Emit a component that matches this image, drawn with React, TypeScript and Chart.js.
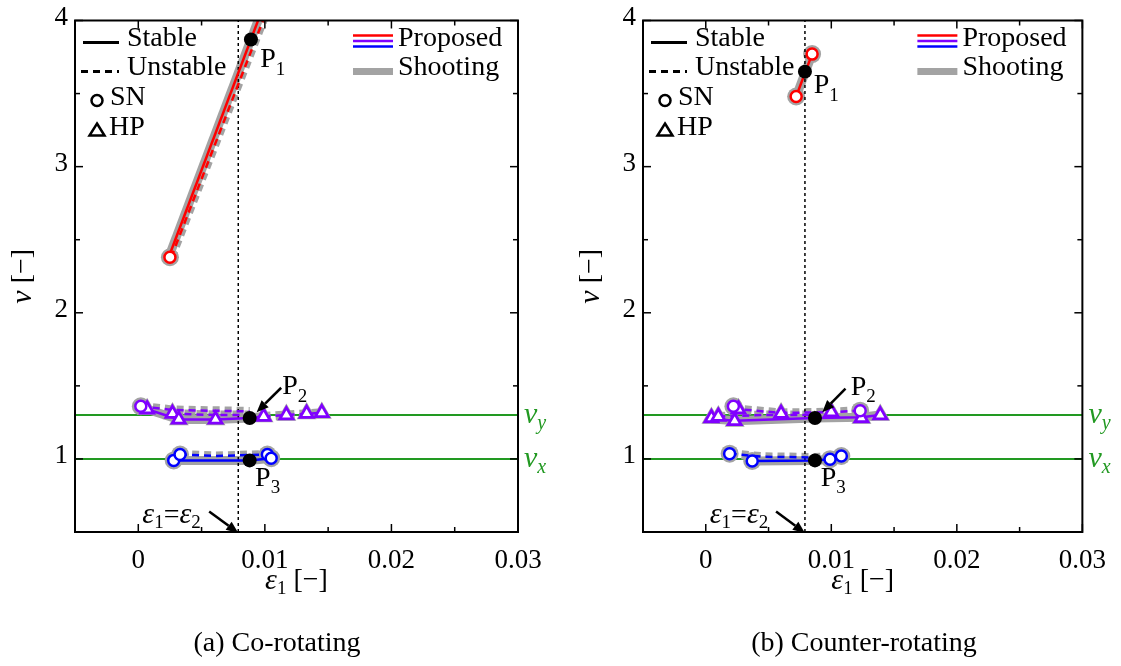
import React, { useEffect, useRef } from "react";
import { Chart, registerables } from "chart.js";
Chart.register(...registerables);

type Pt = [number, number];

const FONT = "'Liberation Serif', 'Times New Roman', Times, serif";
const RED = "#ff0000";
const PURPLE = "#8000ff";
const BLUE = "#0000ff";
const GREEN = "#229922";
const GREY = "#a3a3a3";

// Axes
const X_MIN = -0.005;
const X_MAX = 0.03;
const X_STEP = 0.005;
const Y_MIN = 0.5;
const Y_MAX = 4;
const Y_STEP = 0.5;
const X_TICK_LABELS = [0, 0.01, 0.02, 0.03];
const Y_TICK_LABELS = [1, 2, 3, 4];

// Reference lines
const NU_X = 1.0;
const NU_Y = 1.3;
const EPS_EQUAL = 0.0079;

// ---- (a) Co-rotating ----
const CO_RED_SOLID: Pt[] = [[0.0024, 2.38], [0.0099, 4.1]];
const CO_RED_DASH: Pt[] = [[0.0026, 2.38], [0.0103, 4.1]];
const CO_RED_SN: Pt[] = [[0.0025, 2.38]];
const CO_PURPLE_SOLID: Pt[] = [[0.0007, 1.34], [0.0032, 1.27], [0.0061, 1.27], [0.0088, 1.28], [0.0099, 1.29]];
const CO_PURPLE_DASH_A: Pt[] = [[0.0002, 1.36], [0.0027, 1.335], [0.0088, 1.325]];
const CO_PURPLE_DASH_B: Pt[] = [[0.0027, 1.31], [0.0061, 1.3], [0.0088, 1.3]];
const CO_PURPLE_DASH_C: Pt[] = [[0.0099, 1.29], [0.0117, 1.3], [0.0133, 1.31], [0.0145, 1.315]];
const CO_PURPLE_SN: Pt[] = [[0.0002, 1.36]];
const CO_PURPLE_HP: Pt[] = [[0.0007, 1.34], [0.0027, 1.31], [0.0032, 1.27], [0.0061, 1.27], [0.0099, 1.29], [0.0117, 1.3], [0.0133, 1.31], [0.0145, 1.315]];
const CO_BLUE_SOLID: Pt[] = [[0.0028, 0.99], [0.0088, 0.99], [0.0105, 1.005]];
const CO_BLUE_DASH: Pt[] = [[0.0033, 1.03], [0.006, 1.02], [0.0102, 1.03]];
const CO_BLUE_SN: Pt[] = [[0.0028, 0.99], [0.0033, 1.03], [0.0102, 1.03], [0.0105, 1.005]];
const CO_P_DOTS: Pt[] = [[0.0089, 3.87], [0.0088, 1.28], [0.0088, 0.99]];
const CO_P_LABELS: Pt[] = [[0.00963, 3.73], [0.01137, 1.495], [0.00923, 0.866]];
const CO_P2_ARROW: Pt[] = [[0.01129, 1.487], [0.00935, 1.32]];

// ---- (b) Counter-rotating ----
const CT_RED_SOLID: Pt[] = [[0.0072, 3.48], [0.00847, 3.77]];
const CT_RED_SN: Pt[] = [[0.0072, 3.48], [0.00847, 3.77]];
const CT_PURPLE_SOLID: Pt[] = [[0.00045, 1.275], [0.0023, 1.262], [0.0087, 1.28], [0.0124, 1.285], [0.0139, 1.3]];
const CT_PURPLE_DASH_A: Pt[] = [[0.0022, 1.36], [0.0026, 1.34], [0.006, 1.315], [0.01, 1.32], [0.0123, 1.33]];
const CT_PURPLE_DASH_B: Pt[] = [[0.001, 1.29], [0.0045, 1.3], [0.0087, 1.3]];
const CT_PURPLE_SN: Pt[] = [[0.0022, 1.36], [0.0123, 1.33]];
const CT_PURPLE_HP: Pt[] = [[0.00045, 1.28], [0.001, 1.29], [0.0026, 1.34], [0.0023, 1.26], [0.006, 1.31], [0.01, 1.32], [0.0124, 1.28], [0.0139, 1.3]];
const CT_BLUE_SOLID: Pt[] = [[0.0037, 0.986], [0.0087, 0.99], [0.0099, 0.998]];
const CT_BLUE_DASH: Pt[] = [[0.0019, 1.036], [0.0045, 1.015], [0.0087, 1.01], [0.0108, 1.02]];
const CT_BLUE_SN: Pt[] = [[0.0019, 1.036], [0.0037, 0.986], [0.0099, 0.998], [0.0108, 1.02]];
const CT_P_DOTS: Pt[] = [[0.0079, 3.65], [0.0087, 1.28], [0.0087, 0.99]];
const CT_P_LABELS: Pt[] = [[0.0086, 3.554], [0.01154, 1.489], [0.00916, 0.866]];
const CT_P2_ARROW: Pt[] = [[0.01113, 1.481], [0.00928, 1.32]];

// ε1=ε2 annotation (shared)
const EPS_LABEL: Pt = [0.00032, 0.615];
const EPS_ARROW: Pt[] = [[0.0056, 0.641], [0.0079, 0.5]];

const CAPTIONS = ["(a) Co-rotating", "(b) Counter-rotating"];

interface Line { pts: Pt[]; color: string; dashed: boolean }
interface Marks { pts: Pt[]; color: string }
interface Panel {
  key: string;
  lines: Line[];
  sn: Marks[];
  hp: Marks[];
  pDots: Pt[];
  pLabels: Pt[];
  p2Arrow: Pt[];
}

const PANELS: Panel[] = [
  {
    key: "co",
    lines: [
      { pts: CO_RED_SOLID, color: RED, dashed: false },
      { pts: CO_RED_DASH, color: RED, dashed: true },
      { pts: CO_PURPLE_SOLID, color: PURPLE, dashed: false },
      { pts: CO_PURPLE_DASH_A, color: PURPLE, dashed: true },
      { pts: CO_PURPLE_DASH_B, color: PURPLE, dashed: true },
      { pts: CO_PURPLE_DASH_C, color: PURPLE, dashed: true },
      { pts: CO_BLUE_SOLID, color: BLUE, dashed: false },
      { pts: CO_BLUE_DASH, color: BLUE, dashed: true },
    ],
    sn: [
      { pts: CO_RED_SN, color: RED },
      { pts: CO_PURPLE_SN, color: PURPLE },
      { pts: CO_BLUE_SN, color: BLUE },
    ],
    hp: [{ pts: CO_PURPLE_HP, color: PURPLE }],
    pDots: CO_P_DOTS,
    pLabels: CO_P_LABELS,
    p2Arrow: CO_P2_ARROW,
  },
  {
    key: "ct",
    lines: [
      { pts: CT_RED_SOLID, color: RED, dashed: false },
      { pts: CT_PURPLE_SOLID, color: PURPLE, dashed: false },
      { pts: CT_PURPLE_DASH_A, color: PURPLE, dashed: true },
      { pts: CT_PURPLE_DASH_B, color: PURPLE, dashed: true },
      { pts: CT_BLUE_SOLID, color: BLUE, dashed: false },
      { pts: CT_BLUE_DASH, color: BLUE, dashed: true },
    ],
    sn: [
      { pts: CT_RED_SN, color: RED },
      { pts: CT_PURPLE_SN, color: PURPLE },
      { pts: CT_BLUE_SN, color: BLUE },
    ],
    hp: [{ pts: CT_PURPLE_HP, color: PURPLE }],
    pDots: CT_P_DOTS,
    pLabels: CT_P_LABELS,
    p2Arrow: CT_P2_ARROW,
  },
];

const DASH = [7, 5];
const toXY = (pts: Pt[]) => pts.map(([x, y]) => ({ x, y }));

function buildDatasets(p: Panel) {
  const ds: any[] = [];
  const base = { showLine: true, pointRadius: 0, clip: 0, fill: false, tension: 0 };
  ds.push({ ...base, data: toXY([[X_MIN, NU_Y], [X_MAX, NU_Y]]), borderColor: GREEN, borderWidth: 2, order: 40 });
  ds.push({ ...base, data: toXY([[X_MIN, NU_X], [X_MAX, NU_X]]), borderColor: GREEN, borderWidth: 2, order: 40 });
  // shooting (grey) lines
  for (const l of p.lines) {
    ds.push({ ...base, data: toXY(l.pts), borderColor: GREY, borderWidth: 9, borderDash: l.dashed ? DASH : [], order: 30 });
  }
  // shooting halos
  for (const m of p.sn) {
    ds.push({ showLine: false, data: toXY(m.pts), pointStyle: "circle", pointRadius: 9, pointBackgroundColor: GREY, pointBorderWidth: 0, order: 29 });
  }
  for (const m of p.hp) {
    ds.push({ showLine: false, data: toXY(m.pts), pointStyle: "triangle", pointRadius: 11.5, pointBackgroundColor: GREY, pointBorderWidth: 0, order: 29 });
  }
  // vertical eps line
  ds.push({ ...base, data: toXY([[EPS_EQUAL, Y_MIN], [EPS_EQUAL, Y_MAX]]), borderColor: "#000", borderWidth: 1.5, borderDash: [3, 3], order: 20 });
  // proposed lines
  for (const l of p.lines) {
    ds.push({ ...base, data: toXY(l.pts), borderColor: l.color, borderWidth: 2.5, borderDash: l.dashed ? DASH : [], order: 10 });
  }
  for (const m of p.sn) {
    ds.push({ showLine: false, data: toXY(m.pts), pointStyle: "circle", pointRadius: 5.5, pointBackgroundColor: "#fff", pointBorderColor: m.color, pointBorderWidth: 2.5, order: 5 });
  }
  for (const m of p.hp) {
    ds.push({ showLine: false, data: toXY(m.pts), pointStyle: "triangle", pointRadius: 7.5, pointBackgroundColor: "#fff", pointBorderColor: m.color, pointBorderWidth: 2.8, order: 5 });
  }
  ds.push({ showLine: false, data: toXY(p.pDots), pointStyle: "circle", pointRadius: 7, pointBackgroundColor: "#000", pointBorderWidth: 0, order: 1 });
  return ds;
}

type Part = { t: string; size: number; italic?: boolean; dy?: number; color?: string };

function drawParts(ctx: CanvasRenderingContext2D, parts: Part[], x: number, y: number, align: "left" | "center" = "left") {
  ctx.textBaseline = "middle";
  ctx.textAlign = "left";
  const widths = parts.map((p) => {
    ctx.font = `${p.italic ? "italic " : ""}${p.size}px ${FONT}`;
    return ctx.measureText(p.t).width;
  });
  const total = widths.reduce((a, b) => a + b, 0);
  let cx = align === "center" ? x - total / 2 : x;
  parts.forEach((p, i) => {
    ctx.font = `${p.italic ? "italic " : ""}${p.size}px ${FONT}`;
    ctx.fillStyle = p.color || "#000";
    ctx.fillText(p.t, cx, y + (p.dy || 0));
    cx += widths[i];
  });
}

function arrow(ctx: CanvasRenderingContext2D, x1: number, y1: number, x2: number, y2: number) {
  const ang = Math.atan2(y2 - y1, x2 - x1);
  const hl = 12, hw = 5;
  const bx = x2 - hl * Math.cos(ang), by = y2 - hl * Math.sin(ang);
  ctx.strokeStyle = "#000";
  ctx.lineWidth = 2.5;
  ctx.setLineDash([]);
  ctx.beginPath();
  ctx.moveTo(x1, y1);
  ctx.lineTo(bx, by);
  ctx.stroke();
  ctx.fillStyle = "#000";
  ctx.beginPath();
  ctx.moveTo(x2, y2);
  ctx.lineTo(bx + hw * Math.sin(ang), by - hw * Math.cos(ang));
  ctx.lineTo(bx - hw * Math.sin(ang), by + hw * Math.cos(ang));
  ctx.closePath();
  ctx.fill();
}

function isMajorX(v: number) {
  return X_TICK_LABELS.some((t) => Math.abs(t - v) < 1e-9);
}
function isMajorY(v: number) {
  return Y_TICK_LABELS.some((t) => Math.abs(t - v) < 1e-9);
}

function makeOverlay(p: Panel) {
  return {
    id: "overlay_" + p.key,
    afterDraw(chart: any) {
      const ctx: CanvasRenderingContext2D = chart.ctx;
      const { left, right, top, bottom } = chart.chartArea;
      const xs = chart.scales.x, ys = chart.scales.y;
      const X = (v: number) => xs.getPixelForValue(v);
      const Y = (v: number) => ys.getPixelForValue(v);
      ctx.save();
      ctx.setLineDash([]);
      ctx.strokeStyle = "#000";
      ctx.lineWidth = 1.5;
      const seg = (a: number, b: number, c: number, d: number) => {
        ctx.beginPath(); ctx.moveTo(a, b); ctx.lineTo(c, d); ctx.stroke();
      };
      for (const t of xs.ticks) {
        const px = X(t.value);
        const L = isMajorX(t.value) ? 8 : 5;
        seg(px, bottom, px, bottom - L);
        seg(px, top, px, top + L);
      }
      for (const t of ys.ticks) {
        const py = Y(t.value);
        const L = isMajorY(t.value) ? 8 : 5;
        seg(left, py, left + L, py);
        seg(right, py, right - L, py);
      }
      ctx.lineWidth = 2;
      ctx.strokeRect(left, top, right - left, bottom - top);

      // Left legend
      ctx.lineWidth = 3;
      ctx.strokeStyle = "#000";
      seg(left + 8, top + 22, left + 44, top + 22);
      drawParts(ctx, [{ t: "Stable", size: 28 }], left + 52, top + 18);
      ctx.setLineDash(DASH);
      seg(left + 6, top + 51, left + 44, top + 51);
      ctx.setLineDash([]);
      drawParts(ctx, [{ t: "Unstable", size: 28 }], left + 52, top + 47);
      ctx.lineWidth = 2.5;
      ctx.beginPath();
      ctx.arc(left + 22, top + 80, 5.5, 0, Math.PI * 2);
      ctx.stroke();
      drawParts(ctx, [{ t: "SN", size: 28 }], left + 35, top + 77);
      ctx.beginPath();
      ctx.moveTo(left + 22, top + 103);
      ctx.lineTo(left + 29.5, top + 115);
      ctx.lineTo(left + 14.5, top + 115);
      ctx.closePath();
      ctx.stroke();
      drawParts(ctx, [{ t: "HP", size: 28 }], left + 34, top + 107);

      // Right legend
      const lx1 = right - 165, lx2 = right - 125;
      ctx.lineWidth = 2.5;
      ctx.strokeStyle = RED; seg(lx1, top + 15, lx2, top + 15);
      ctx.strokeStyle = PURPLE; seg(lx1, top + 20.5, lx2, top + 20.5);
      ctx.strokeStyle = BLUE; seg(lx1, top + 26, lx2, top + 26);
      drawParts(ctx, [{ t: "Proposed", size: 28 }], right - 120, top + 18);
      ctx.strokeStyle = GREY; ctx.lineWidth = 7;
      seg(lx1, top + 51, lx2, top + 51);
      drawParts(ctx, [{ t: "Shooting", size: 28 }], right - 120, top + 47);

      // ν labels
      drawParts(ctx, [{ t: "ν", size: 30, italic: true, color: GREEN }, { t: "y", size: 20, italic: true, dy: 9, color: GREEN }], right + 6, Y(NU_Y));
      drawParts(ctx, [{ t: "ν", size: 30, italic: true, color: GREEN }, { t: "x", size: 20, italic: true, dy: 9, color: GREEN }], right + 6, Y(NU_X));

      // P labels
      p.pLabels.forEach((pt, i) => {
        drawParts(ctx, [{ t: "P", size: 28 }, { t: String(i + 1), size: 19, dy: 10 }], X(pt[0]), Y(pt[1]));
      });
      arrow(ctx, X(p.p2Arrow[0][0]), Y(p.p2Arrow[0][1]), X(p.p2Arrow[1][0]), Y(p.p2Arrow[1][1]));

      // ε1=ε2
      drawParts(ctx, [
        { t: "ε", size: 30, italic: true },
        { t: "1", size: 19, dy: 8 },
        { t: "=", size: 28 },
        { t: "ε", size: 30, italic: true },
        { t: "2", size: 19, dy: 8 },
      ], X(EPS_LABEL[0]), Y(EPS_LABEL[1]));
      arrow(ctx, X(EPS_ARROW[0][0]), Y(EPS_ARROW[0][1]), X(EPS_ARROW[1][0]), Y(EPS_ARROW[1][1]) + 1);

      // Axis titles
      drawParts(ctx, [
        { t: "ε", size: 30, italic: true },
        { t: "1", size: 19, dy: 8 },
        { t: " [−]", size: 28 },
      ], (left + right) / 2, bottom + 49, "center");
      ctx.save();
      ctx.translate(left - 52, (top + bottom) / 2);
      ctx.rotate(-Math.PI / 2);
      drawParts(ctx, [{ t: "ν", size: 30, italic: true }, { t: " [−]", size: 28 }], 0, 0, "center");
      ctx.restore();
      ctx.restore();
    },
  };
}

function PanelChart({ panel, width, axisW, padRight }: { panel: Panel; width: number; axisW: number; padRight: number }) {
  const ref = useRef<HTMLCanvasElement>(null);
  useEffect(() => {
    const chart = new Chart(ref.current as HTMLCanvasElement, {
      type: "scatter",
      data: { datasets: buildDatasets(panel) },
      options: {
        animation: false,
        responsive: false,
        maintainAspectRatio: false,
        events: [],
        layout: { padding: { left: 0, top: 15, right: padRight, bottom: 0 } },
        plugins: { legend: { display: false }, tooltip: { enabled: false } },
        scales: {
          x: {
            type: "linear",
            min: X_MIN,
            max: X_MAX,
            grid: { display: false, drawTicks: false },
            border: { display: false },
            ticks: {
              stepSize: X_STEP,
              autoSkip: false,
              maxRotation: 0,
              padding: 15,
              color: "#000",
              font: { family: FONT, size: 27, lineHeight: 1 },
              callback: (v: any) => {
                const k = Math.round(Number(v) * 1000);
                if (k >= 0 && k % 10 === 0) return k === 0 ? "0" : (k / 1000).toFixed(2);
                return "";
              },
            },
            afterFit: (s: any) => { s.height = 134; },
          },
          y: {
            type: "linear",
            min: Y_MIN,
            max: Y_MAX,
            grid: { display: false, drawTicks: false },
            border: { display: false },
            ticks: {
              stepSize: Y_STEP,
              autoSkip: false,
              padding: 7,
              labelOffset: -3,
              color: "#000",
              font: { family: FONT, size: 27, lineHeight: 1 },
              callback: (v: any) => {
                const n = Number(v);
                return Y_TICK_LABELS.some((t) => Math.abs(t - n) < 1e-9) ? String(Math.round(n)) : "";
              },
            },
            afterFit: (s: any) => { s.width = axisW; },
          },
        },
      } as any,
      plugins: [makeOverlay(panel)],
    });
    return () => chart.destroy();
  }, []);
  return <canvas ref={ref} width={width} height={666} style={{ display: "block", width, height: 666 }} />;
}

export default function App() {
  const capStyle: React.CSSProperties = {
    position: "absolute",
    top: 625,
    fontFamily: FONT,
    fontSize: 28,
    lineHeight: "34px",
    color: "#000",
    whiteSpace: "nowrap",
    transform: "translateX(-50%)",
  };
  return (
    <div style={{ position: "absolute", left: 0, top: 0, width: 1121, height: 666, background: "#fff", overflow: "hidden" }}>
      <div style={{ position: "absolute", left: 0, top: 0 }}>
        <PanelChart panel={PANELS[0]} width={560} axisW={75} padRight={42} />
      </div>
      <div style={{ position: "absolute", left: 560, top: 0 }}>
        <PanelChart panel={PANELS[1]} width={561} axisW={83} padRight={37} />
      </div>
      <div style={{ ...capStyle, left: 277 }}>{CAPTIONS[0]}</div>
      <div style={{ ...capStyle, left: 864 }}>{CAPTIONS[1]}</div>
    </div>
  );
}
